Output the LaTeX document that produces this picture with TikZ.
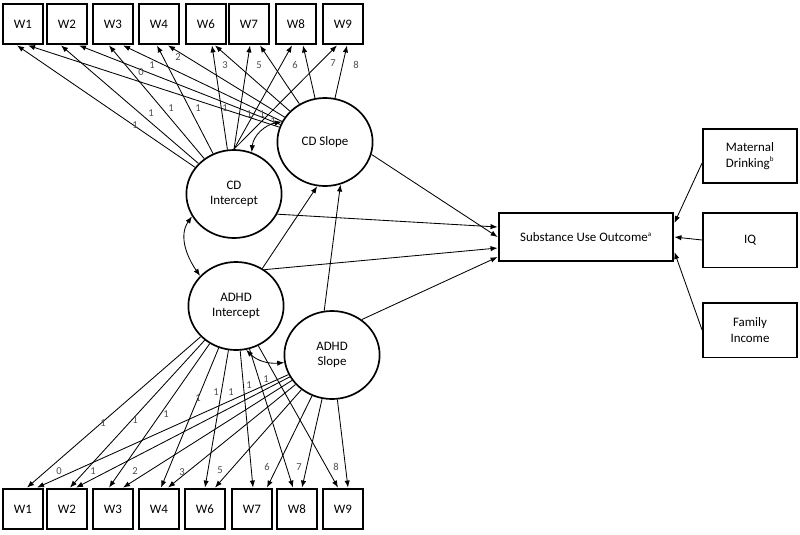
\documentclass[tikz,border=0pt]{standalone}
\usepackage{fontspec}
\setmainfont{Carlito}
\usetikzlibrary{shapes.geometric,arrows.meta}
\definecolor{labgray}{rgb}{0.3,0.3,0.3}
\tikzset{
  txt/.style={font=\fontsize{9.2}{11}\selectfont},
  obs/.style={txt,draw,line width=1.4pt,minimum width=0.98cm,minimum height=1.02cm,inner sep=0pt},
  lat/.style={txt,draw,ellipse,line width=1.2pt,minimum width=2.38cm,minimum height=2.2cm,inner sep=0pt,align=center},
  cov/.style={txt,draw,line width=1.3pt,minimum width=2.35cm,minimum height=1.37cm,inner sep=0pt,align=center},
  path/.style={->,line width=0.6pt},
  lab/.style={text=labgray,font=\fontsize{7.5}{8}\selectfont,inner sep=0pt}
}
\begin{document}
\begin{tikzpicture}[x=0.025cm,y=0.025cm,>={Latex[length=5pt,width=3.8pt]}]
\useasboundingbox (0,0) rectangle (800,-534);

% indicators, CD on top and ADHD below
\foreach \n/\x in {1/23,2/67,3/113,4/159,6/206,7/249,8/296,9/343}
  \node[obs] (Wt\n) at (\x,-24) {W\n};
\foreach \n/\x in {1/23,2/67,3/113,4/159,6/205,7/252,8/297,9/343}
  \node[obs] (Wb\n) at (\x,-509) {W\n};

% growth factors
\node[lat] (CDi) at (234,-194) {CD\\Intercept};
\node[lat] (CDs) at (325,-142) {CD Slope};
\node[lat] (ADi) at (236,-306) {ADHD\\Intercept};
\node[lat] (ADs) at (332,-355) {ADHD\\Slope};

% outcome and covariates
\node[cov,line width=1.4pt,minimum width=4.37cm,minimum height=1.2cm] (sub) at (586,-237)
  {Substance Use Outcome\textsuperscript{\tiny a}};
\node[cov] (mat) at (750,-156) {Maternal\\Drinking\textsuperscript{\tiny b}};
\node[cov] (iq) at (750,-240) {IQ};
\node[cov] (inc) at (750,-330) {Family\\Income};

% loadings
\foreach \n/\s/\a/\b in {1/CDi/-6/5,2/CDi/-6/12,3/CDi/-4/10,4/CDi/-2/9,
    6/CDi/6/9,7/CDi.north/1/11,8/CDi.north/-4/7,9/CDi.north/-6/4}{
  \draw[path] (\s) -- ([xshift=\a*0.025cm]Wt\n.south);
  \draw[path] (CDs) -- ([xshift=\b*0.025cm]Wt\n.south);
}
\foreach \n/\a/\b in {1/4/14,2/3/9,3/-4/10,4/2/9,6/0/10,7/1/15,8/-4/5,9/-5/5}{
  \draw[path] (ADi) -- ([xshift=\a*0.025cm]Wb\n.north);
  \draw[path] (ADs) -- ([xshift=\b*0.025cm]Wb\n.north);
}

% loading values
\foreach \t/\x/\y [count=\i] in {1/135/125,1/151/113,1/171/108,1/198/108,
    1/225/108,1/249/114,1/262/114,1/273/121,
    0/141/72,1/152/65,2/178/57,3/225/65,5/259/65,6/295/65,7/333/63,8/356/65}
  \node[lab] (lt\i) at (\x,-\y) {\t};
\foreach \t/\x/\y [count=\i] in {1/103/423,1/135/420,1/166/414,1/198/398,
    1/216/392,1/231/392,1/249/385,1/266/379,
    0/59/471,1/93/471,2/135/471,3/182/472,5/220/470,6/267/467,7/299/467,8/336/467}
  \node[lab] (lb\i) at (\x,-\y) {\t};

% structural paths
\draw[path] (CDs.-15) -- (sub.west);
\draw[path] (CDi.-25) -- ([yshift=0.25cm]sub.west);
\draw[path] (ADi.52) -- ([yshift=-0.275cm]sub.west);
\draw[path] (ADs.50) -- ([yshift=-0.5cm]sub.west);
\draw[path] (ADi.55) -- (CDs.-100);
\draw[path] (ADs.100) -- (CDs.-70);
\draw[path] ([yshift=-0.175cm]mat.west) -- ([yshift=0.35cm]sub.east);
\draw[path] (iq.west) -- (sub.east);
\draw[path] (inc.west) -- ([yshift=-0.375cm]sub.east);

% covariances
\draw[<->,line width=0.6pt] (CDi.67) to[out=85,in=190] (CDs.155);
\draw[<->,line width=0.6pt] (CDi.208) to[out=235,in=125] (ADi.140);
\draw[<->,line width=0.6pt] (ADi.283) to[out=-45,in=185] (ADs.189);

\end{tikzpicture}
\end{document}
